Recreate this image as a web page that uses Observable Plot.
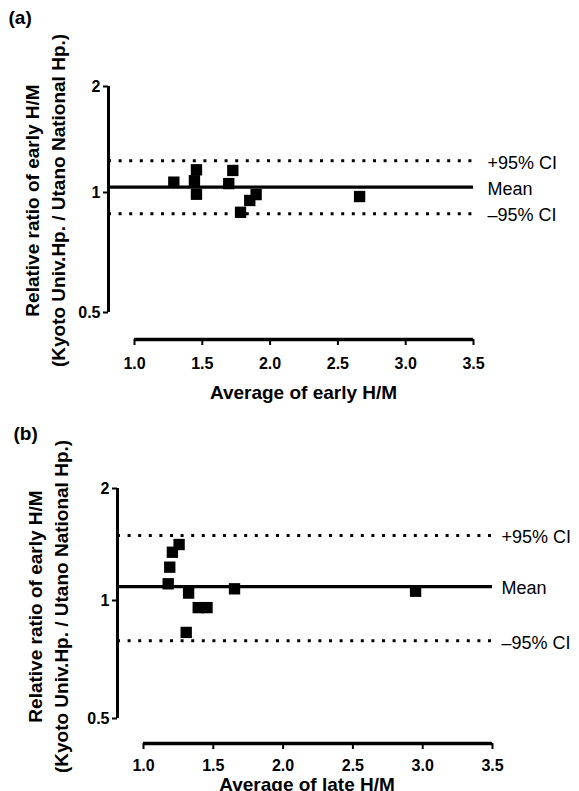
<!DOCTYPE html>
<html><head><meta charset="utf-8">
<script src="https://cdn.jsdelivr.net/npm/d3@7"></script>
<script src="https://cdn.jsdelivr.net/npm/@observablehq/plot@0.6"></script>
<style>
html,body{margin:0;padding:0;background:#fff;width:579px;height:791px;overflow:hidden;}
#a,#b{position:absolute;left:0;}
#a{top:0px;z-index:2} #b{top:400px;z-index:1}
svg{overflow:visible}
</style></head><body>
<div id="a"></div><div id="b"></div>
<script>
// ---- data ----
const yTicks = [0.5, 1, 2];
const xTicks = [1.0, 1.5, 2.0, 2.5, 3.0, 3.5];
const lineLabels = ["+95% CI", "Mean", "\u201395% CI"];
const yTitle = "Relative ratio of early H/M\n(Kyoto Univ.Hp. / Utano National Hp.)";

const earlyAvg   = [1.29, 1.457, 1.442, 1.457, 1.695, 1.725, 1.782, 1.85, 1.897, 2.66];
const earlyRatio = [1.07, 1.16, 1.08, 0.99, 1.06, 1.155, 0.892, 0.955, 0.988, 0.977];
const earlyLines = [1.23, 1.036, 0.885]; // +95% CI, mean, -95% CI

const lateAvg    = [1.255, 1.207, 1.188, 1.177, 1.323, 1.392, 1.455, 1.306, 1.652, 2.949];
const lateRatio  = [1.414, 1.348, 1.229, 1.109, 1.047, 0.959, 0.959, 0.829, 1.075, 1.059];
const lateLines  = [1.495, 1.09, 0.789];

// ---- layout (pixels) ----
const W = 579;
const layoutA = {height: 400, axisX: 108, x1: 134, x35: 473, p2: 86, p1: 192, p05: 312, floor: 339, tickPad: 12,
  tagDx: -100, tagDy: -69, ytDx: -65, ytDy: -12.5, xtDx: 12.5, xtDy: 53, labelDx: 14};
const layoutB = {height: 391, axisX: 117, x1: 143, x35: 492, p2: 88, p1: 200, p05: 318, floor: 343, tickPad: 10,
  tagDx: -104, tagDy: -55, ytDx: -71, ytDy: -9.5, xtDx: 2, xtDy: 41, labelDx: 9};

function panel(tag, xTitle, avg, ratio, lines, L) {
  const xMin = d3.min(xTicks), xMax = d3.max(xTicks);
  const xLeft = xMin - (L.x1 - L.axisX) * (xMax - xMin) / (L.x35 - L.x1);
  const yMin = d3.min(yTicks), yMax = d3.max(yTicks);
  // value of the x-axis baseline, below 0.5 on the same log spacing
  const yFloor = yMin * Math.pow(2, -(L.floor - L.p05) / (L.p05 - L.p1));
  const pts = avg.map((x, i) => ({x, y: ratio[i]}));
  const ci = [lines[0], lines[2]];
  return Plot.plot({
    width: W, height: L.height,
    marginLeft: L.axisX, marginRight: W - L.x35, marginTop: L.p2, marginBottom: L.height - L.floor,
    style: {fontFamily: "'Liberation Sans', Arial, Helvetica, sans-serif", fontWeight: "bold", background: "none", color: "black"},
    x: {domain: [xLeft, xMax]},
    y: {type: "log", domain: [yFloor, yMin, 1, yMax], range: [L.floor, L.p05, L.p1, L.p2]},
    marks: [
      Plot.ruleY(ci, {x1: xLeft, x2: xMax, stroke: "black", strokeWidth: 3, strokeDasharray: "3,7.6"}),
      Plot.ruleY([lines[1]], {x1: xLeft, x2: xMax, stroke: "black", strokeWidth: 3.2}),
      Plot.ruleX([xLeft], {y1: yMin, y2: yMax, stroke: "black", strokeWidth: 3}),
      Plot.ruleY([yFloor], {x1: xMin, x2: xMax, stroke: "black", strokeWidth: 3.5}),
      Plot.axisY({ticks: yTicks, tickFormat: d => String(d), tickSize: 5, tickPadding: 3, fontSize: 16, label: null, strokeWidth: 2}),
      Plot.axisX({ticks: xTicks, tickFormat: d3.format(".1f"), tickSize: 6, tickPadding: L.tickPad, fontSize: 16, label: null, strokeWidth: 2}),
      Plot.dot(pts, {x: "x", y: "y", symbol: "square", r: 6.4, fill: "black", stroke: null}),
      Plot.text(lineLabels, {x: xMax, y: (d, i) => lines[i], dx: L.labelDx, dy: 2, textAnchor: "start", fontSize: 18, fontWeight: "normal"}),
      Plot.text([tag], {frameAnchor: "top-left", dx: L.tagDx, dy: L.tagDy, textAnchor: "start", lineAnchor: "middle", fontSize: 19}),
      Plot.text([yTitle], {frameAnchor: "left", rotate: -90, dx: L.ytDx, dy: L.ytDy, textAnchor: "middle", lineAnchor: "middle", fontSize: 19, lineHeight: 1.37}),
      Plot.text([xTitle], {frameAnchor: "bottom", dx: L.xtDx, dy: L.xtDy, textAnchor: "middle", lineAnchor: "middle", fontSize: 19})
    ]
  });
}

document.getElementById("a").appendChild(panel("(a)", "Average of early H/M", earlyAvg, earlyRatio, earlyLines, layoutA));
document.getElementById("b").appendChild(panel("(b)", "Average of late H/M", lateAvg, lateRatio, lateLines, layoutB));
</script>
</body></html>
